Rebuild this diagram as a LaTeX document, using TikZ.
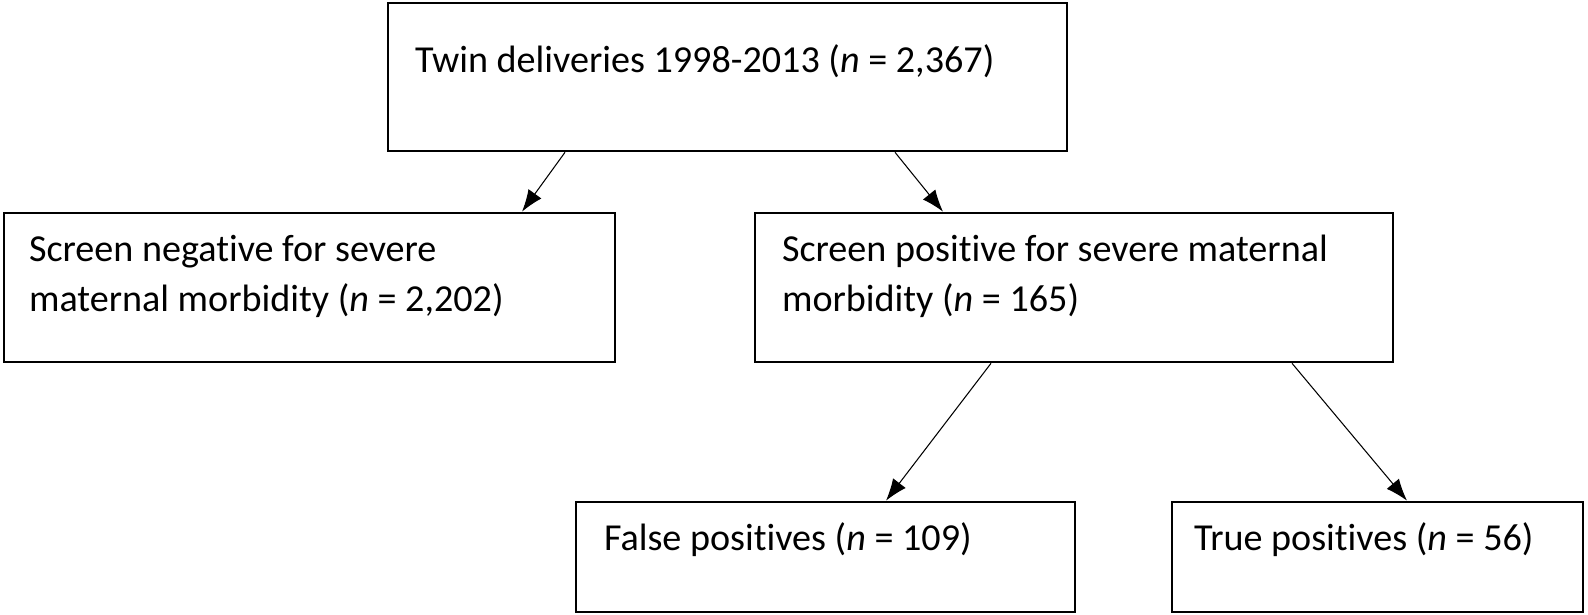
\documentclass[tikz,border=0pt]{standalone}
\usepackage{fontspec}
\setmainfont{Carlito}[Ligatures = NoCommon]
\usetikzlibrary{arrows.meta}

\tikzset{
	box/.style = {draw, line width = 1.5pt, inner sep = 0pt},
	txt/.style = {anchor = base west, align = left, inner sep = 0pt, font = \fontsize{21.7}{28}\selectfont},
	link/.style = {->, line width = 0.6pt}
}

\begin{document}
\begin{tikzpicture}[> = {Latex[length = 0.44cm, width = 0.32cm]}]

	\useasboundingbox (0, 0) rectangle (31.76, 12.30);

	% Boxes

	\node [box, minimum width = 13.58cm, minimum height = 2.96cm] (twins) at (14.55, 10.76) {};
	\node [box, minimum width = 12.22cm, minimum height = 2.98cm] (negative) at (6.19, 6.55) {};
	\node [box, minimum width = 12.76cm, minimum height = 2.98cm] (positive) at (21.48, 6.55) {};
	\node [box, minimum width = 9.98cm, minimum height = 2.20cm] (falsepos) at (16.51, 1.16) {};
	\node [box, minimum width = 8.22cm, minimum height = 2.20cm] (truepos) at (27.55, 1.16) {};

	% Texts (base = last line)

	\node [txt] (twinstext) at ([shift = {(0.56, -1.42)}] twins.north west) {Twin deliveries 1998-2013 (\textit{n} = 2,367)};
	\node [txt] (negativetext) at ([shift = {(0.52, -1.99)}] negative.north west) {Screen negative for severe\\maternal morbidity (\textit{n} = 2,202)};
	\node [txt] (positivetext) at ([shift = {(0.56, -1.99)}] positive.north west) {Screen positive for severe maternal\\morbidity (\textit{n} = 165)};
	\node [txt] (falsepostext) at ([shift = {(0.58, -1.00)}] falsepos.north west) {False positives (\textit{n} = 109)};
	\node [txt] (truepostext) at ([shift = {(0.46, -1.00)}] truepos.north west) {True positives (\textit{n} = 56)};

	% Arrows

	\draw [link] ([xshift = -3.25cm] twins.south) -- ([xshift = 4.25cm] negative.north);
	\draw [link] ([xshift = 3.35cm] twins.south) -- ([xshift = -2.62cm] positive.north);
	\draw [link] ([xshift = -1.66cm] positive.south) -- ([xshift = 1.21cm] falsepos.north);
	\draw [link] ([xshift = 4.36cm] positive.south) -- ([xshift = 0.59cm] truepos.north);

\end{tikzpicture}
\end{document}
